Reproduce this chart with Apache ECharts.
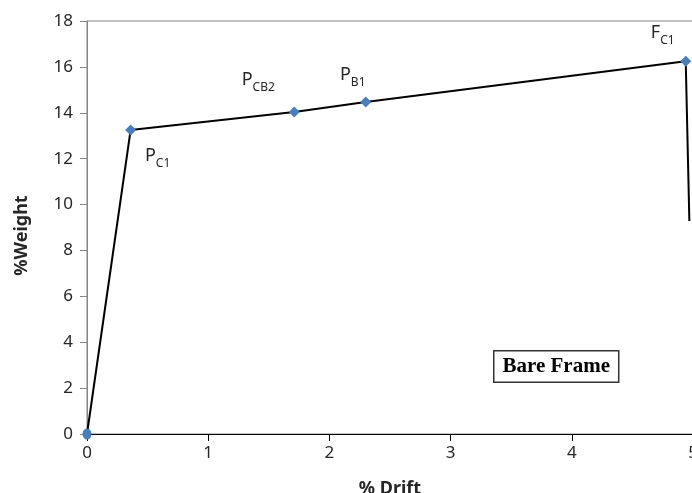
<!DOCTYPE html>
<html>
<head>
<meta charset="utf-8">
<script src="https://cdn.jsdelivr.net/npm/echarts@6/dist/echarts.min.js"></script>
<style>
  html, body { margin: 0; padding: 0; background: #fff; }
  #chart { width: 692px; height: 493px; }
</style>
</head>
<body>
<div id="chart"></div>
<script>
// drift (%) and weight (%)
var driftValues = [0, 0.36, 1.71, 2.30, 4.94, 4.97]
var weightValues = [0, 13.25, 14.03, 14.47, 16.25, 9.28]
// point labels: [main letter, subscript] (empty = no label)
var pointLabels = [null, ['P', 'C1'], ['P', 'CB2'], ['P', 'B1'], ['F', 'C1'], null]
var labelOffsets = [null, [27, 28], [-36, -30], [-13, -25], [-23, -26], null]

var font = 'Noto Sans'

var chart = echarts.init(document.getElementById('chart'))

var seriesData = driftValues.map(function (x, i) {
  var item = { value: [x, weightValues[i]] }
  if (i === 0) {
    item.symbol = 'circle'
    item.symbolSize = [9, 11]
  }
  if (i === driftValues.length - 1) {
    item.symbol = 'none'
  }
  if (pointLabels[i]) {
    item.label = {
      show: true,
      position: 'inside',
      offset: labelOffsets[i],
      formatter: '{p|' + pointLabels[i][0] + '}{s|' + pointLabels[i][1] + '}'
    }
  }
  return item
})

var option = {
  animation: false,
  backgroundColor: '#fff',
  grid: {
    left: 87,
    top: 21,
    width: 606,
    height: 413,
    outerBoundsMode: 'none',
    containLabel: false,
    show: true,
    borderColor: '#868686',
    borderWidth: 1,
    backgroundColor: 'transparent'
  },
  xAxis: {
    type: 'value',
    min: 0,
    max: 5,
    interval: 1,
    name: '% Drift',
    nameLocation: 'middle',
    nameGap: 46,
    nameTextStyle: {
      fontFamily: font,
      fontWeight: 'bold',
      fontSize: 18,
      color: '#262626'
    },
    axisLine: { show: true, lineStyle: { color: '#000', width: 1.2 } },
    axisTick: { show: true, length: 7, lineStyle: { color: '#000' } },
    axisLabel: { fontFamily: font, fontSize: 17, color: '#262626', margin: 11 },
    splitLine: { show: false }
  },
  yAxis: {
    type: 'value',
    min: 0,
    max: 18,
    interval: 2,
    name: '%Weight',
    nameLocation: 'middle',
    nameGap: 56,
    nameTextStyle: {
      fontFamily: font,
      fontWeight: 'bold',
      fontSize: 18,
      color: '#262626',
      padding: [0, 16, 0, 0]
    },
    axisLine: { show: true, lineStyle: { color: '#868686', width: 1 } },
    axisTick: { show: true, length: 7, lineStyle: { color: '#868686' } },
    axisLabel: { fontFamily: font, fontSize: 17, color: '#262626', margin: 14 },
    splitLine: { show: false }
  },
  series: [{
    type: 'line',
    data: seriesData,
    symbol: 'diamond',
    symbolSize: 11,
    showAllSymbol: true,
    clip: false,
    lineStyle: { color: '#000', width: 2 },
    itemStyle: { color: '#4a7ebb' },
    label: {
      rich: {
        p: { fontFamily: font, fontSize: 18, color: '#262626', lineHeight: 23, verticalAlign: 'top' },
        s: { fontFamily: font, fontSize: 12, color: '#262626', lineHeight: 23, verticalAlign: 'bottom' }
      }
    }
  }],
  graphic: [{
    type: 'text',
    left: 493,
    top: 350,
    style: {
      text: 'Bare Frame',
      fontFamily: 'Liberation Serif',
      fontWeight: 'bold',
      fontSize: 21,
      fill: '#000',
      padding: [5, 8, 4, 8],
      borderColor: '#333',
      borderWidth: 1.5,
      backgroundColor: '#fff'
    }
  }]
}

chart.setOption(option)
</script>
</body>
</html>
